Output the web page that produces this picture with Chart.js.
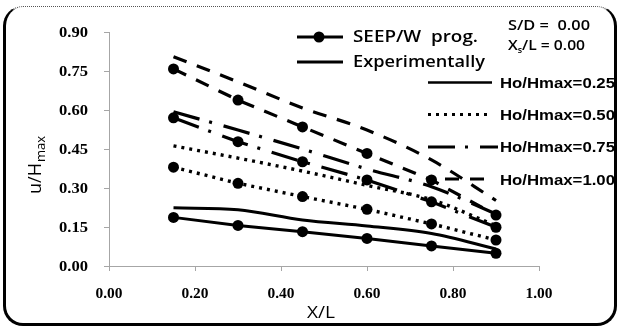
<!DOCTYPE html>
<html>
<head>
<meta charset="utf-8">
<script src="https://cdn.jsdelivr.net/npm/chart.js@4.4.1/dist/chart.umd.min.js"></script>
<style>
  html, body { margin: 0; padding: 0; background: #fff; }
  #wrap { position: relative; width: 619px; height: 329px; }
  #frame { position: absolute; left: 3px; top: 6px; width: 608px; height: 316px;
           border: 3px solid #000; border-top: 1px dotted #555; border-radius: 20px; pointer-events: none; }
  canvas { position: absolute; left: 0; top: 0; }
</style>
</head>
<body>
<div id="wrap">
  <canvas id="c" width="619" height="329"></canvas>
  <div id="frame"></div>
</div>
<script>
// ---- data ----
const xPositions = [0.15, 0.30, 0.45, 0.60, 0.75, 0.90];
const ratioLabels = ["Ho/Hmax=0.25", "Ho/Hmax=0.50", "Ho/Hmax=0.75", "Ho/Hmax=1.00"];
const seep025 = [0.187, 0.156, 0.132, 0.106, 0.077, 0.049];
const seep050 = [0.380, 0.318, 0.267, 0.218, 0.162, 0.100];
const seep075 = [0.570, 0.478, 0.401, 0.331, 0.247, 0.149];
const seep100 = [0.758, 0.638, 0.535, 0.433, 0.331, 0.196];
const exp025 = [0.224, 0.216, 0.177, 0.154, 0.125, 0.066];
const exp050 = [0.462, 0.415, 0.365, 0.310, 0.255, 0.155];
const exp075 = [0.593, 0.523, 0.450, 0.373, 0.305, 0.200];
const exp100 = [0.805, 0.708, 0.608, 0.523, 0.408, 0.252];
const xTicks = [0.00, 0.20, 0.40, 0.60, 0.80, 1.00];
const yTicks = [0.00, 0.15, 0.30, 0.45, 0.60, 0.75, 0.90];

const styles = {
  s025: [],
  s050: [3, 5],
  s075: [27, 10, 3, 12],
  s100: [14, 11]
};
const widths = { s025: 3, s050: 3.4, s075: 3.2, s100: 3.2 };

function pts(ys) { return ys.map((y, i) => ({ x: xPositions[i], y: y })); }

function seepDs(ys, key) {
  return { data: pts(ys), borderColor: '#000', backgroundColor: '#000', borderWidth: widths[key],
           borderDash: styles[key], pointRadius: 5.5, pointHoverRadius: 5.5, pointBackgroundColor: '#000',
           pointBorderWidth: 0, tension: 0, fill: false };
}
function expDs(ys, key) {
  return { data: pts(ys), borderColor: '#000', borderWidth: widths[key], borderDash: styles[key],
           pointRadius: 0, cubicInterpolationMode: 'monotone', fill: false };
}

function drawStretched(ctx, text, x, y, font, width, align) {
  ctx.save();
  ctx.font = font;
  const w = ctx.measureText(text).width;
  const sx = width ? width / w : 1;
  let x0 = x;
  if (align === 'right') x0 = x - w * sx;
  else if (align === 'center') x0 = x - w * sx / 2;
  ctx.translate(x0, y);
  ctx.scale(sx, 1);
  ctx.textBaseline = 'alphabetic';
  ctx.textAlign = 'left';
  ctx.fillStyle = '#000';
  ctx.fillText(text, 0, 0);
  ctx.restore();
}

const customDraw = {
  id: 'customDraw',
  afterDatasetsDraw(chart) {
    const ctx = chart.ctx;
    const xs = chart.scales.x, ys = chart.scales.y;
    const tickFont = 'bold 14px "Liberation Serif", "Times New Roman", serif';
    yTicks.forEach(v => {
      const py = ys.getPixelForValue(v);
      drawStretched(ctx, v.toFixed(2), 88, py + 5, tickFont, 29, 'right');
    });
    xTicks.forEach(v => {
      const px = xs.getPixelForValue(v);
      drawStretched(ctx, v.toFixed(2), px, 298, tickFont, 27, 'center');
    });
    // axis titles
    ctx.save();
    ctx.translate(41, 194);
    ctx.rotate(-Math.PI / 2);
    ctx.fillStyle = '#000';
    ctx.font = '18px "Open Sans", sans-serif';
    ctx.fillText('u/H', 0, 0);
    const w1 = ctx.measureText('u/H').width;
    ctx.font = '13px "Open Sans", sans-serif';
    ctx.fillText('max', w1 + 1, 4);
    ctx.restore();
    drawStretched(ctx, 'X/L', 307, 318, '16px "Open Sans", sans-serif', 28, 'left');

    // legend (series type)
    ctx.save();
    ctx.strokeStyle = '#000';
    ctx.lineWidth = 3;
    ctx.setLineDash([]);
    ctx.beginPath(); ctx.moveTo(297, 37); ctx.lineTo(343, 37); ctx.stroke();
    ctx.beginPath(); ctx.arc(319, 37, 5.5, 0, Math.PI * 2); ctx.fillStyle = '#000'; ctx.fill();
    ctx.beginPath(); ctx.moveTo(297, 62); ctx.lineTo(343, 62); ctx.stroke();
    ctx.restore();
    drawStretched(ctx, 'SEEP/W  prog.', 353, 42, '600 17px "Open Sans", sans-serif', 125, 'left');
    drawStretched(ctx, 'Experimentally', 353, 67, '600 17px "Open Sans", sans-serif', 132, 'left');

    // S/D and Xs/L
    drawStretched(ctx, 'S/D =  0.00', 508, 30, '600 14px "Open Sans", sans-serif', 82, 'left');
    ctx.save();
    ctx.fillStyle = '#000';
    ctx.font = '600 14px "Open Sans", sans-serif';
    ctx.translate(508, 50);
    ctx.scale(1.12, 1);
    ctx.fillText('X', 0, 0);
    const wx = ctx.measureText('X').width;
    ctx.font = '600 8px "Open Sans", sans-serif';
    ctx.fillText('s', wx, 3);
    const ws = ctx.measureText('s').width;
    ctx.font = '600 14px "Open Sans", sans-serif';
    ctx.fillText('/L = 0.00', wx + ws, 0);
    ctx.restore();

    // ratio legend
    const keys = ['s025', 's050', 's075', 's100'];
    const bases = [88, 120, 152, 185];
    const lineY = [82.5, 114.5, 147, 179];
    const starts = [428, 428, 428, 445];
    const ends = [492, 492, 498, 494];
    for (let i = 0; i < 4; i++) {
      ctx.save();
      ctx.strokeStyle = '#000';
      ctx.lineWidth = widths[keys[i]] - 0.4;
      ctx.setLineDash(styles[keys[i]]);
      ctx.beginPath(); ctx.moveTo(starts[i], lineY[i]); ctx.lineTo(ends[i], lineY[i]); ctx.stroke();
      ctx.restore();
      drawStretched(ctx, ratioLabels[i], 500, bases[i], 'bold 15px "Liberation Sans", Arial, sans-serif', 115, 'left');
    }
  }
};

new Chart(document.getElementById('c'), {
  type: 'line',
  data: {
    datasets: [
      expDs(exp025, 's025'),
      expDs(exp050, 's050'),
      expDs(exp075, 's075'),
      expDs(exp100, 's100'),
      seepDs(seep025, 's025'),
      seepDs(seep050, 's050'),
      seepDs(seep075, 's075'),
      seepDs(seep100, 's100')
    ]
  },
  options: {
    responsive: false,
    animation: false,
    events: [],
    layout: { padding: { left: 0, top: 32, right: 80, bottom: 0 } },
    plugins: { legend: { display: false }, tooltip: { enabled: false }, title: { display: false } },
    scales: {
      x: {
        type: 'linear', min: 0, max: 1,
        ticks: { stepSize: 0.2, color: 'rgba(0,0,0,0)', font: { size: 1 } },
        grid: { display: true, drawOnChartArea: false, drawTicks: true, tickLength: 5, color: '#a6a6a6' },
        border: { display: true, color: '#a6a6a6', width: 1 },
        afterFit(s) { s.height = 63; }
      },
      y: {
        type: 'linear', min: 0, max: 0.9,
        ticks: { stepSize: 0.15, color: 'rgba(0,0,0,0)', font: { size: 1 } },
        grid: { display: true, drawOnChartArea: false, drawTicks: true, tickLength: 5, color: '#a6a6a6' },
        border: { display: true, color: '#a6a6a6', width: 1 },
        afterFit(s) { s.width = 109; }
      }
    }
  },
  plugins: [customDraw]
});
</script>
</body>
</html>
